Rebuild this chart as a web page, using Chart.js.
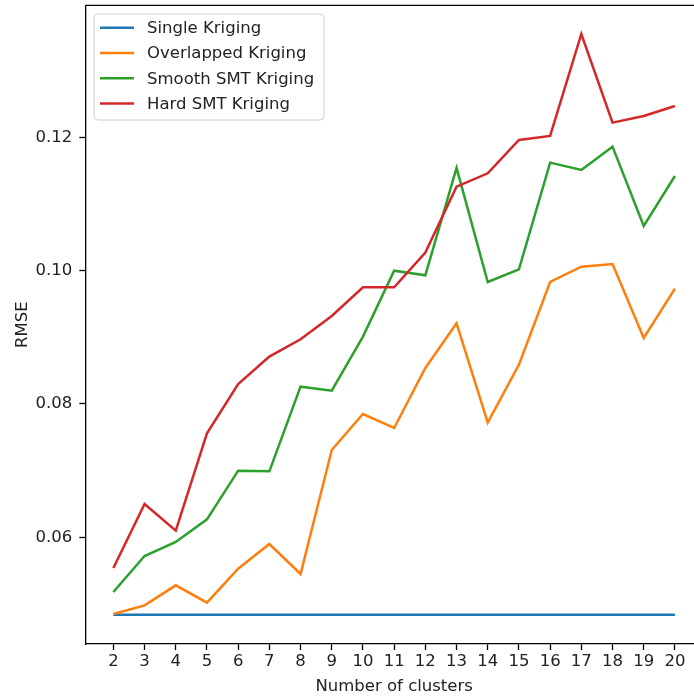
<!DOCTYPE html>
<html>
<head>
<meta charset="utf-8">
<script src="https://cdn.jsdelivr.net/npm/chart.js@4.4.0/dist/chart.umd.min.js"></script>
<style>
  html, body { margin: 0; padding: 0; background: #fff; overflow: hidden; }
  #wrap { width: 694px; height: 697px; overflow: hidden; position: relative; }
  canvas { display: block; }
</style>
</head>
<body>
<div id="wrap"><canvas id="c" width="720" height="697"></canvas></div>
<script>
const clusters = [2,3,4,5,6,7,8,9,10,11,12,13,14,15,16,17,18,19,20];
const singleKriging = [0.0484,0.0484,0.0484,0.0484,0.0484,0.0484,0.0484,0.0484,0.0484,0.0484,0.0484,0.0484,0.0484,0.0484,0.0484,0.0484,0.0484,0.0484,0.0484];
const overlappedKriging = [0.0485,0.0498,0.0528,0.0502,0.0553,0.0590,0.0545,0.0731,0.0785,0.0764,0.0854,0.0921,0.0772,0.0859,0.0983,0.1006,0.1010,0.0899,0.0973];
const smoothSMTKriging = [0.0518,0.0572,0.0593,0.0627,0.0700,0.0699,0.0826,0.0820,0.0901,0.1000,0.0993,0.1154,0.0983,0.1002,0.1162,0.1151,0.1186,0.1067,0.1142];
const hardSMTKriging = [0.0554,0.0650,0.0610,0.0756,0.0830,0.0871,0.0897,0.0932,0.0975,0.0975,0.1027,0.1126,0.1146,0.1196,0.1202,0.1355,0.1222,0.1232,0.1247];
const seriesNames = ["Single Kriging","Overlapped Kriging","Smooth SMT Kriging","Hard SMT Kriging"];
const yTickValues = [0.06,0.08,0.10,0.12];
const xAxisTitle = "Number of clusters";
const yAxisTitle = "RMSE";

const colors = ["#1f77b4","#ff7f0e","#2ca02c","#d62728"];
const FONT = "'DejaVu Sans', sans-serif";
const FS = 16.5;
const TEXT = "#222222";

const allSeries = [singleKriging, overlappedKriging, smoothSMTKriging, hardSMTKriging];
const datasets = allSeries.map((s, i) => ({
  label: seriesNames[i],
  data: clusters.map((x, j) => ({x: x, y: s[j]})),
  borderColor: colors[i],
  backgroundColor: colors[i],
  borderWidth: 2.5,
  pointRadius: 0,
  tension: 0,
  fill: false,
  order: 4 - i
}));

const framePlugin = {
  id: 'frame',
  afterDatasetsDraw(chart) {
    const ctx = chart.ctx, a = chart.chartArea;
    ctx.save();
    ctx.strokeStyle = '#000';
    ctx.lineWidth = 1.3;
    ctx.beginPath();
    ctx.moveTo(a.left, a.top); ctx.lineTo(a.right, a.top);
    ctx.moveTo(a.right, a.top); ctx.lineTo(a.right, a.bottom);
    ctx.stroke();
    ctx.restore();
  }
};

const legendPlugin = {
  id: 'mplLegend',
  afterDraw(chart) {
    const ctx = chart.ctx;
    const x0 = 94, y0 = 14, w = 230, h = 106, r = 4;
    ctx.save();
    ctx.beginPath();
    ctx.moveTo(x0 + r, y0);
    ctx.lineTo(x0 + w - r, y0); ctx.arcTo(x0 + w, y0, x0 + w, y0 + r, r);
    ctx.lineTo(x0 + w, y0 + h - r); ctx.arcTo(x0 + w, y0 + h, x0 + w - r, y0 + h, r);
    ctx.lineTo(x0 + r, y0 + h); ctx.arcTo(x0, y0 + h, x0, y0 + h - r, r);
    ctx.lineTo(x0, y0 + r); ctx.arcTo(x0, y0, x0 + r, y0, r);
    ctx.closePath();
    ctx.fillStyle = 'rgba(255,255,255,0.8)';
    ctx.fill();
    ctx.strokeStyle = '#d0d0d0';
    ctx.lineWidth = 1;
    ctx.stroke();
    ctx.font = FS + "px " + FONT;
    ctx.textBaseline = 'middle';
    ctx.textAlign = 'left';
    chart.data.datasets.forEach((d, i) => {
      const yy = 27.7 + i * 25.3;
      ctx.strokeStyle = d.borderColor;
      ctx.lineWidth = 2.5;
      ctx.beginPath();
      ctx.moveTo(100, yy); ctx.lineTo(134, yy);
      ctx.stroke();
      ctx.fillStyle = TEXT;
      ctx.fillText(d.label, 147, yy + 1);
    });
    ctx.restore();
  }
};

new Chart(document.getElementById('c'), {
  type: 'line',
  data: { datasets: datasets },
  options: {
    responsive: false,
    animation: false,
    layout: { padding: { top: 5.3, right: 17, left: 0, bottom: 0 } },
    plugins: { legend: { display: false }, tooltip: { enabled: false } },
    scales: {
      x: {
        type: 'linear',
        min: 1.1, max: 20.9,
        afterBuildTicks: s => { s.ticks = clusters.map(v => ({value: v})); },
        afterFit: s => { s.height = 53; s.paddingLeft = 0; s.paddingRight = 0; },
        grid: { drawOnChartArea: false, drawTicks: true, tickLength: 6, tickWidth: 1.3, tickColor: '#000' },
        border: { display: true, color: '#000', width: 1.3 },
        ticks: { color: TEXT, font: { family: FONT, size: FS }, padding: 2, maxRotation: 0, autoSkip: false,
                 callback: v => String(v) },
        title: { display: true, text: xAxisTitle, color: TEXT, font: { family: FONT, size: FS }, padding: { top: 0, bottom: 0 } }
      },
      y: {
        type: 'linear',
        min: 0.0440, max: 0.1398,
        afterBuildTicks: s => { s.ticks = yTickValues.map(v => ({value: v})); },
        afterFit: s => { s.width = 85.3; s.paddingTop = 0; s.paddingBottom = 0; },
        grid: { drawOnChartArea: false, drawTicks: true, tickLength: 6, tickWidth: 1.3, tickColor: '#000' },
        border: { display: true, color: '#000', width: 1.3 },
        ticks: { color: TEXT, font: { family: FONT, size: FS }, padding: 7, callback: v => v.toFixed(2) },
        title: { display: true, text: yAxisTitle, color: TEXT, font: { family: FONT, size: FS }, padding: { top: 13, bottom: 0 } }
      }
    }
  },
  plugins: [framePlugin, legendPlugin]
});
</script>
</body>
</html>
